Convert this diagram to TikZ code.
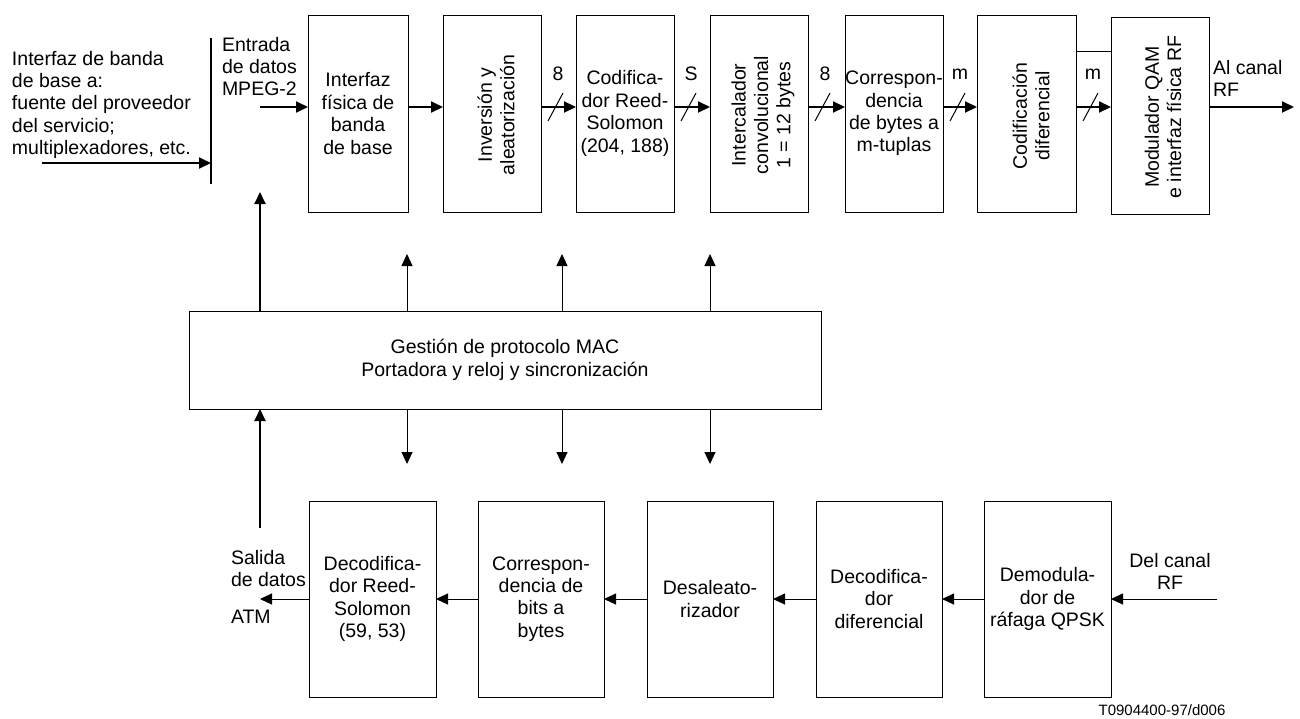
\documentclass[tikz,border=0pt]{standalone}
\usepackage{fontspec}
\setmainfont{Liberation Sans}
\usetikzlibrary{arrows.meta,calc}
\begin{document}
\begin{tikzpicture}[x=1pt,y=-1pt,
  every node/.style={font=\fontsize{19.5pt}{22.4pt}\selectfont, inner sep=0pt, outer sep=0pt},
  topbox/.style={draw, line width=1pt, minimum height=197pt, align=center},
  botbox/.style={draw, line width=1pt, minimum height=196pt, align=center},
  vtxt/.style={rotate=90, align=center},
  thk/.style={line width=2pt, -{Triangle[length=12pt,width=11pt]}},
  thn/.style={line width=1pt, -{Triangle[length=12pt,width=11pt]}},
  rule/.style={line width=1pt},
  bus/.style={line width=1pt}
]
\useasboundingbox (0,0) rectangle (1300,718);

% ---------- transmit chain (top row) ----------
\node[topbox, minimum width=100pt] (b1) at (358,113.5) {Interfaz\\física de\\banda\\de base};
\node[topbox, minimum width=98pt]  (b2) at (492,113.5) {};
\node[vtxt] (t2) at (496,115) {Inversión y\\aleatorización};
\node[topbox, minimum width=98pt]  (b3) at (625,113.5) {Codifica-\\dor Reed-\\Solomon\\(204, 188)};
\node[topbox, minimum width=98pt]  (b4) at (759,113.5) {};
\node[vtxt] (t4) at (763,115) {Intercalador\\convolucional\\1 = 12 bytes};
\node[topbox, minimum width=98pt]  (b5) at (894,113.5) {Correspon-\\dencia\\de bytes a\\m-tuplas};
\node[topbox, minimum width=99pt]  (b6) at (1026.5,113.5) {};
\node[vtxt] (t6) at (1031,116) {Codificación\\diferencial};
\node[topbox, minimum width=98pt]  (b7) at (1160,115.5) {};
\node[vtxt] (t7) at (1163,117) {Modulador QAM\\e interfaz física RF};

\coordinate (row) at (0,107);
\coordinate (lnk) at (0,51);

\draw[thk] (b1.east |- row) -- (b2.west |- row);
\draw[thk] (b2.east |- row) -- (b3.west |- row);
\draw[thk] (b3.east |- row) -- (b4.west |- row);
\draw[thk] (b4.east |- row) -- (b5.west |- row);
\draw[thk] (b5.east |- row) -- (b6.west |- row);
\draw[thk] (b6.east |- row) -- (b7.west |- row);
\draw[rule] (b6.east |- lnk) -- (b7.west |- lnk);

% bus-width marks and labels
\foreach \b/\w in {b2/8, b3/S, b4/8, b5/m, b6/m}{
  \draw[bus] ($(\b.east |- row)+(7,14)$) -- ($(\b.east |- row)+(22,-14)$);
  \node (w\b) at ($(\b.east |- row)+(17,-33)$) {\w};
}

\coordinate (rfout) at (1294,107);
\draw[thk] (b7.east |- row) -- (rfout);
\node[anchor=north west, align=left] (rftxt) at (1213,60) {Al canal\\RF};

% ---------- baseband input ----------
\node[anchor=north west, align=left] (srctxt) at (12,51)
  {Interfaz de banda\\de base a:\\fuente del proveedor\\del servicio;\\multiplexadores, etc.};
\coordinate (barT) at (211,38);
\coordinate (barB) at (211,184);
\draw[line width=2pt] (barT) -- (barB);
\coordinate (srcIn) at (42,163);
\coordinate (barIn) at (211,163);
\draw[thk] (srcIn) -- (barIn);

\node[anchor=north west, align=left] (mpegtxt) at (222,37) {Entrada\\de datos\\MPEG-2};
\coordinate (mpeg) at (260,107);
\draw[thk] (mpeg) -- (b1.west |- row);

% ---------- MAC management ----------
\node[draw, line width=1pt, minimum width=632pt, minimum height=98pt, align=center] (mac) at (505,360)
  {Gestión de protocolo MAC\\Portadora y reloj y sincronización};

\coordinate (upTip) at (260,192);
\draw[thk] (mac.north -| upTip) -- (upTip);
\foreach \x [count=\i] in {407,562,710}{
  \coordinate (up\i) at (\x,254);
  \coordinate (dn\i) at (\x,464);
  \draw[thn] (mac.north -| up\i) -- (up\i);
  \draw[thn] (mac.south -| dn\i) -- (dn\i);
}
\coordinate (atmUp) at (260,528);
\draw[thk] (atmUp) -- (mac.south -| atmUp);

% ---------- receive chain (bottom row) ----------
\node[botbox, minimum width=127pt] (d1) at (372.5,599) {Decodifica-\\dor Reed-\\Solomon\\(59, 53)};
\node[botbox, minimum width=126pt] (d2) at (541,599)   {Correspon-\\dencia de\\bits a\\bytes};
\node[botbox, minimum width=126pt] (d3) at (710,599)   {Desaleato-\\rizador};
\node[botbox, minimum width=126pt] (d4) at (879,599)   {Decodifica-\\dor\\diferencial};
\node[botbox, minimum width=127pt] (d5) at (1047.5,599) {Demodula-\\dor de\\ráfaga QPSK};

\draw[thn] (d2.west) -- (d1.east);
\draw[thn] (d3.west) -- (d2.east);
\draw[thn] (d4.west) -- (d3.east);
\draw[thn] (d5.west) -- (d4.east);

\coordinate (rfin) at (1217,599);
\draw[thn] (rfin) -- (d5.east);
\node[anchor=north, align=center] (rfintxt) at (1170,553) {Del canal\\RF};

\coordinate (atmOut) at (260,599);
\draw[thn] (d1.west) -- (atmOut);
\node[anchor=north west, align=left] (atmtxt) at (231,550) {Salida\\de datos};
\node[anchor=north west] (atmtxt2) at (231,610) {ATM};

\node[font=\fontsize{15pt}{17pt}\selectfont] (code) at (1162,710) {T0904400-97/d006};
\end{tikzpicture}
\end{document}
